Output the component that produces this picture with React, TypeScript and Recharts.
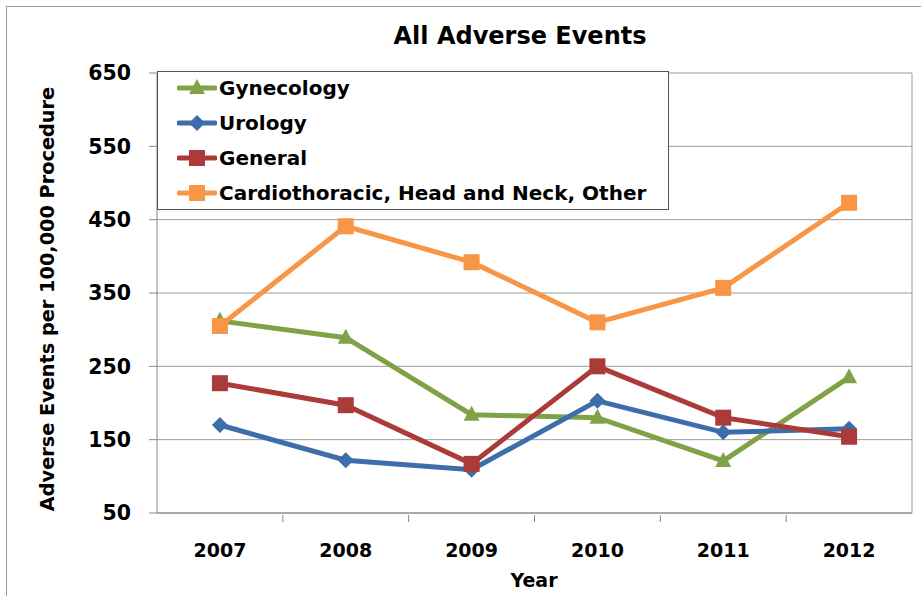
import React from 'react';
import { LineChart, Line, XAxis, YAxis, CartesianGrid, Legend, ReferenceLine } from 'recharts';

const years = ['2007', '2008', '2009', '2010', '2011', '2012'];
const gynecology = [312, 289, 184, 180, 121, 235];
const urology = [170, 122, 109, 203, 160, 165];
const general = [227, 197, 117, 250, 180, 154];
const cardio = [305, 441, 392, 310, 357, 473];
const yTicks = [50, 150, 250, 350, 450, 550, 650];

const FONT = '"DejaVu Sans", sans-serif';

const series = [
  { key: 'gyn', name: 'Gynecology', values: gynecology, color: '#80A246', shape: 'triangle' },
  { key: 'uro', name: 'Urology', values: urology, color: '#3D6DAB', shape: 'diamond' },
  { key: 'gen', name: 'General', values: general, color: '#AA3B39', shape: 'square' },
  { key: 'car', name: 'Cardiothoracic, Head and Neck, Other', values: cardio, color: '#F79646', shape: 'square' },
];

const data = years.map((year, i) => {
  const row: any = { idx: i, year };
  series.forEach(s => { row[s.key] = s.values[i]; });
  return row;
});

const Marker = ({ cx, cy, color, shape }: any) => {
  if (cx == null || cy == null) return null;
  if (shape === 'triangle') {
    return <polygon points={`${cx},${cy - 9} ${cx + 8},${cy + 6} ${cx - 8},${cy + 6}`} fill={color} />;
  }
  if (shape === 'diamond') {
    return <polygon points={`${cx},${cy - 8} ${cx + 8},${cy} ${cx},${cy + 8} ${cx - 8},${cy}`} fill={color} />;
  }
  return <rect x={cx - 8} y={cy - 8} width={16} height={16} fill={color} />;
};

const XTick = ({ x, y, payload }: any) => {
  const v = payload.value;
  if (Number.isInteger(v)) {
    return (
      <text x={x} y={y + 42} textAnchor="middle" fontFamily={FONT} fontWeight={700} fontSize={19} fill="#000">
        {years[v]}
      </text>
    );
  }
  return <line x1={x} x2={x} y1={y} y2={y + 7} stroke="#888" />;
};

const renderLegend = () => (
  <div
    style={{
      border: '1px solid #555',
      background: '#fff',
      width: 512,
      height: 139,
      boxSizing: 'border-box',
      fontFamily: FONT,
      fontWeight: 700,
      fontSize: 20,
      color: '#000',
    }}
  >
    <div style={{ position: 'relative', top: -2 }}>
      {series.map(s => (
        <div key={s.key} style={{ display: 'flex', alignItems: 'center', height: 35 }}>
          <svg width={40} height={20} style={{ marginLeft: 19, marginRight: 2 }}>
            <line x1={2} x2={38} y1={10} y2={10} stroke={s.color} strokeWidth={5} strokeLinecap="round" />
            <Marker cx={20} cy={10} color={s.color} shape={s.shape} />
          </svg>
          <span>{s.name}</span>
        </div>
      ))}
    </div>
  </div>
);

export default function App() {
  return (
    <div style={{ position: 'absolute', left: 0, top: 0, width: 921, height: 596, overflow: 'hidden', background: '#fff' }}>
      <div style={{ position: 'absolute', left: 6, top: 6, width: 1000, height: 1000, border: '1px solid #999' }} />
      <div
        style={{
          position: 'absolute',
          left: 320,
          top: 22,
          width: 400,
          textAlign: 'center',
          fontFamily: FONT,
          fontWeight: 700,
          fontSize: 24,
          color: '#000',
        }}
      >
        All Adverse Events
      </div>
      <div style={{ position: 'absolute', left: 0, top: 0 }}>
        <LineChart width={921} height={596} data={data} margin={{ top: 73, right: 9, left: 0, bottom: 0 }}>
          <CartesianGrid horizontal vertical={false} stroke="#999" />
          <XAxis
            dataKey="idx"
            type="number"
            domain={[-0.5, 5.5]}
            ticks={[0, 0.5, 1, 1.5, 2, 2.5, 3, 3.5, 4, 4.5, 5]}
            interval={0}
            tick={<XTick />}
            tickLine={false}
            tickSize={0}
            axisLine={{ stroke: '#888' }}
            height={83}
            label={{
              content: () => (
                <text x={534} y={587} textAnchor="middle" fontFamily={FONT} fontWeight={700} fontSize={19} fill="#000">
                  Year
                </text>
              ),
            }}
          />
          <YAxis
            type="number"
            domain={[50, 650]}
            ticks={yTicks}
            interval={0}
            width={157}
            tickSize={8}
            tickMargin={18}
            axisLine={{ stroke: '#888' }}
            tickLine={{ stroke: '#888' }}
            tick={{ fontFamily: FONT, fontWeight: 700, fontSize: 20.5, fill: '#000' }}
            label={{
              content: () => (
                <text
                  x={47}
                  y={299}
                  transform="rotate(-90 47 299)"
                  textAnchor="middle"
                  dominantBaseline="central"
                  fontFamily={FONT}
                  fontWeight={700}
                  fontSize={19.3}
                  fill="#000"
                >
                  Adverse Events per 100,000 Procedure
                </text>
              ),
            }}
          />
          <ReferenceLine x={5.5} stroke="#999" />
          {series.map(s => (
            <Line
              key={s.key}
              dataKey={s.key}
              name={s.name}
              stroke={s.color}
              strokeWidth={5}
              isAnimationActive={false}
              dot={(p: any) => <Marker key={`${s.key}-${p.index}`} cx={p.cx} cy={p.cy} color={s.color} shape={s.shape} />}
              activeDot={false}
            />
          ))}
          <Legend
            layout="horizontal"
            verticalAlign="middle"
            align="center"
            content={renderLegend}
            wrapperStyle={{ position: 'absolute', left: 157, top: 71, width: 512, height: 139 }}
          />
        </LineChart>
      </div>
    </div>
  );
}
